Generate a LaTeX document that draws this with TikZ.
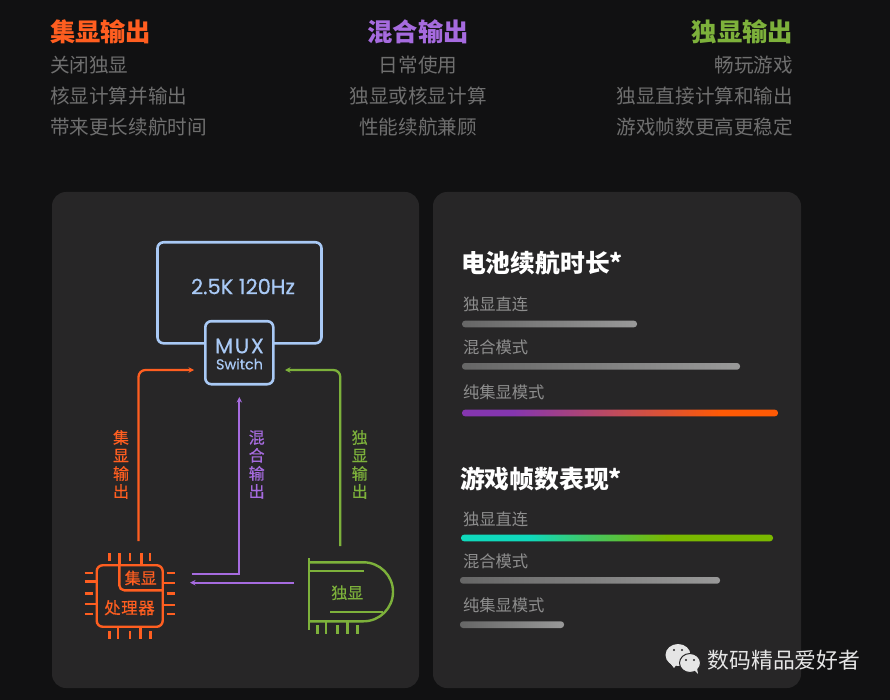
\documentclass[tikz,border=0pt]{standalone}
\usepackage{fontspec}
\setmainfont{Noto Sans CJK SC}
\newfontfamily\latinfont{Poppins}
\usetikzlibrary{arrows.meta}
\definecolor{pagebg}{HTML}{111112}
\definecolor{panelbg}{HTML}{272627}
\definecolor{igpucol}{HTML}{FF5E20}
\definecolor{mixcol}{HTML}{A66BDF}
\definecolor{dgpucol}{HTML}{7DB13B}
\definecolor{muxcol}{HTML}{A9C9F5}
\definecolor{dimtext}{HTML}{6F6F6F}
\definecolor{labeltext}{HTML}{8E8E8E}
\definecolor{barleft}{HTML}{666666}
\definecolor{barright}{HTML}{999999}
\definecolor{hotleft}{HTML}{8536B0}
\definecolor{hotmid}{HTML}{C24C58}
\definecolor{hotright}{HTML}{FF5A05}
\definecolor{coolleft}{HTML}{0FD9BC}
\definecolor{coolmid}{HTML}{45C65F}
\definecolor{coolright}{HTML}{7AB800}
\pgfdeclarehorizontalshading{hotbar}{100bp}{color(0bp)=(hotleft); color(33bp)=(hotleft); color(50bp)=(hotmid); color(66bp)=(hotright); color(100bp)=(hotright)}
\pgfdeclarehorizontalshading{coolbar}{100bp}{color(0bp)=(coolleft); color(36bp)=(coolleft); color(46bp)=(coolmid); color(58bp)=(coolright); color(100bp)=(coolright)}
\begin{document}
\begin{tikzpicture}[x=1pt,y=-1pt,>={Stealth[length=5.5pt,width=5.5pt]}]
	\tikzstyle{flow} = [inner sep=0pt,text width=200pt]
	\tikzstyle{head} = [flow,font=\fontsize{25.3}{30}\selectfont\bfseries]
	\tikzstyle{desc} = [flow,text=dimtext,font=\fontsize{19.6}{24}\selectfont,node distance=31pt]
	\tikzstyle{panel} = [fill=panelbg,rounded corners=14pt]
	\tikzstyle{heading} = [flow,text=white,font=\fontsize{24.8}{30}\selectfont\bfseries]
	\tikzstyle{barlabel} = [flow,text=labeltext,font=\fontsize{16.3}{20}\selectfont]
	\tikzstyle{graybar} = [left color=barleft,right color=barright,rounded corners=3pt]
	\tikzstyle{muxline} = [draw=muxcol,line width=2.6pt,rounded corners=6pt]
	\tikzstyle{route} = [line width=2.3pt,rounded corners=7pt]
	\tikzstyle{vlabel} = [inner sep=0pt,align=center,font=\fontsize{16}{18}\selectfont\addfontfeature{FakeBold=0.3}]
	\tikzstyle{pin} = [line width=2.4pt]

	\useasboundingbox (0,0) rectangle (890,700);
	\fill[pagebg] (0,0) rectangle (890,700);
	\fill[panel] (52,192) rectangle (419,688);
	\fill[panel] (433,192) rectangle (801,688);

	% top columns
	\node (igpuhead) [head,text=igpucol,align=left] at (150,32) {集显输出};
	\node (igpuone) [desc,align=left] at (150,65) {关闭独显};
	\node (igputwo) [desc,align=left,below of=igpuone] {核显计算并输出};
	\node (igputhree) [desc,align=left,below of=igputwo] {带来更长续航时间};
	\node (mixhead) [head,text=mixcol,align=center] at (418,32) {混合输出};
	\node (mixone) [desc,align=center] at (418,65) {日常使用};
	\node (mixtwo) [desc,align=center,below of=mixone] {独显或核显计算};
	\node (mixthree) [desc,align=center,below of=mixtwo] {性能续航兼顾};
	\node (dgpuhead) [head,text=dgpucol,align=right] at (693,32) {独显输出};
	\node (dgpuone) [desc,align=right] at (693,65) {畅玩游戏};
	\node (dgputwo) [desc,align=right,below of=dgpuone] {独显直接计算和输出};
	\node (dgputhree) [desc,align=right,below of=dgputwo] {游戏帧数更高更稳定};

	% screen and switch
	\node (screen) [muxline,minimum width=164pt,minimum height=101pt,inner sep=0pt] at (239.5,292.8) {};
	\node (screentext) [text=muxcol,inner sep=0pt,font=\latinfont\fontsize{21}{24}\selectfont\addfontfeature{FakeBold=0.5}] at (243,286.5) {2.5K 120Hz};
	\node (mux) [muxline,fill=panelbg,minimum width=68pt,minimum height=63pt,inner sep=0pt] at (239.3,352.7) {};
	\node (muxtext) [text=muxcol,inner sep=0pt,font=\latinfont\fontsize{21}{24}\selectfont\addfontfeature{LetterSpace=8,FakeBold=0.5}] at (239.5,346) {MUX};
	\node (switchtext) [text=muxcol,inner sep=0pt,font=\latinfont\fontsize{14.4}{16}\selectfont\addfontfeature{FakeBold=0.4}] at (239.5,364) {Switch};

	% processor
	\node (cpu) [draw=igpucol,line width=2.4pt,rounded corners=6pt,minimum width=66pt,minimum height=61.5pt,inner sep=0pt] at (129.7,596) {};
	\draw[igpucol,line width=2.4pt,rounded corners=5pt] (119.3,565.3) -- (119.3,590.3) -- (162.7,590.3);
	\foreach \x/\y in {109.3/561,119.3/565,129.7/561,141.3/565,150/561}
		\draw[pin,igpucol] (\x,553.3) -- (\x,\y);
	\foreach \x/\y in {109.3/631,118/627,129.7/631,140.3/627,150.3/631}
		\draw[pin,igpucol] (\x,\y) -- (\x,638.7);
	\foreach \y/\x in {572.7/92.7,581.3/97,593.3/92.7,603.7/97,613.7/92.7}
		\draw[pin,igpucol] (84.7,\y) -- (\x,\y);
	\foreach \y/\x in {572.7/166.7,582.7/162.5,593.3/166.7,605/162.5,613.7/166.7}
		\draw[pin,igpucol] (\x,\y) -- (174.7,\y);
	\node (igputext) [vlabel,text=igpucol] at (140.7,578) {集显};
	\node (cputext) [vlabel,text=igpucol,font=\fontsize{16.5}{18}\selectfont\addfontfeature{LetterSpace=3,FakeBold=0.3}] at (129.5,607.7) {处理器};

	% graphics card
	\draw[dgpucol,line width=2.4pt] (309,562.3) -- (363.5,562.3) .. controls (379.8,562.3) and (393,575.5) .. (393,591.8) .. controls (393,608.1) and (379.8,621.3) .. (363.5,621.3) -- (309,621.3);
	\draw[dgpucol,line width=2.4pt] (309,558.3) -- (309,630);
	\draw[dgpucol,line width=2.4pt] (309,570.7) -- (364,570.7);
	\draw[dgpucol,line width=2.4pt] (330,612) -- (382.7,612);
	\foreach \x/\y in {317.3/625,325.7/621,337.3/625,347.3/621,357.3/625}
		\draw[pin,dgpucol] (\x,\y) -- (\x,634.3);
	\node (dgputext) [vlabel,text=dgpucol] at (347.3,592.7) {独显};

	% routes
	\coordinate (igpustart) at (138.5,541);
	\coordinate (igpubend) at (138.5,370);
	\coordinate (igpuend) at (194,370);
	\coordinate (dgpustart) at (340.3,546);
	\coordinate (dgpubend) at (340.3,370);
	\coordinate (dgpuend) at (285,370);
	\coordinate (mixstart) at (191.7,574.3);
	\coordinate (mixbend) at (239.3,574.3);
	\coordinate (mixend) at (239.3,397);
	\coordinate (backstart) at (294,582.7);
	\coordinate (backend) at (190,582.7);
	\draw[->,route,igpucol] (igpustart) -- (igpubend) -- (igpuend);
	\draw[->,route,dgpucol] (dgpustart) -- (dgpubend) -- (dgpuend);
	\draw[->,line width=2.3pt,mixcol] (mixstart) -- (mixbend) -- (mixend);
	\draw[->,line width=2.3pt,mixcol] (backstart) -- (backend);
	\node (igpuvert) [vlabel,text=igpucol] at (121,464.5) {集\\显\\输\\出};
	\node (mixvert) [vlabel,text=mixcol] at (256.7,464.5) {混\\合\\输\\出};
	\node (dgpuvert) [vlabel,text=dgpucol] at (359.7,464.5) {独\\显\\输\\出};

	% battery bars
	\node (batteryhead) [heading] at (561,263) {电池续航时长*};
	\node (batteryone) [barlabel] at (563,304) {独显直连};
	\node (batterytwo) [barlabel] at (563,347) {混合模式};
	\node (batterythree) [barlabel] at (563,392) {纯集显模式};
	\shade[graybar] (462,320.7) rectangle (637,327.3);
	\shade[graybar] (462,363) rectangle (740,369.7);
	\shade[shading=hotbar,rounded corners=3pt] (462,409.7) rectangle (778,416.3);

	% frame rate bars
	\node (gamehead) [heading] at (560,479) {游戏帧数表现*};
	\node (gameone) [barlabel] at (563,519) {独显直连};
	\node (gametwo) [barlabel] at (563,561.7) {混合模式};
	\node (gamethree) [barlabel] at (563,605.7) {纯集显模式};
	\shade[shading=coolbar,rounded corners=3pt] (461,534.7) rectangle (773,541.3);
	\shade[graybar] (460,577) rectangle (720,583.7);
	\shade[graybar] (460,621.3) rectangle (564,628);

	% watermark
	\fill[white!90!black] (678,655) ellipse (12.5 and 11);
	\fill[white!90!black] (670,663) -- (674,668) -- (677,664) -- cycle;
	\fill[white!90!black,draw=panelbg,line width=1pt] (690,663) ellipse (10.5 and 9.5);
	\fill[white!90!black] (694,670) -- (698,674) -- (697,668) -- cycle;
	\foreach \x/\y in {674/650,682/650,686/660,694/660}
		\fill[panelbg] (\x,\y) circle (1.2);
	\node (watermark) [inner sep=0pt,text=white!90!black,font=\fontsize{21.8}{26}\selectfont] at (784,660) {数码精品爱好者};
\end{tikzpicture}
\end{document}
